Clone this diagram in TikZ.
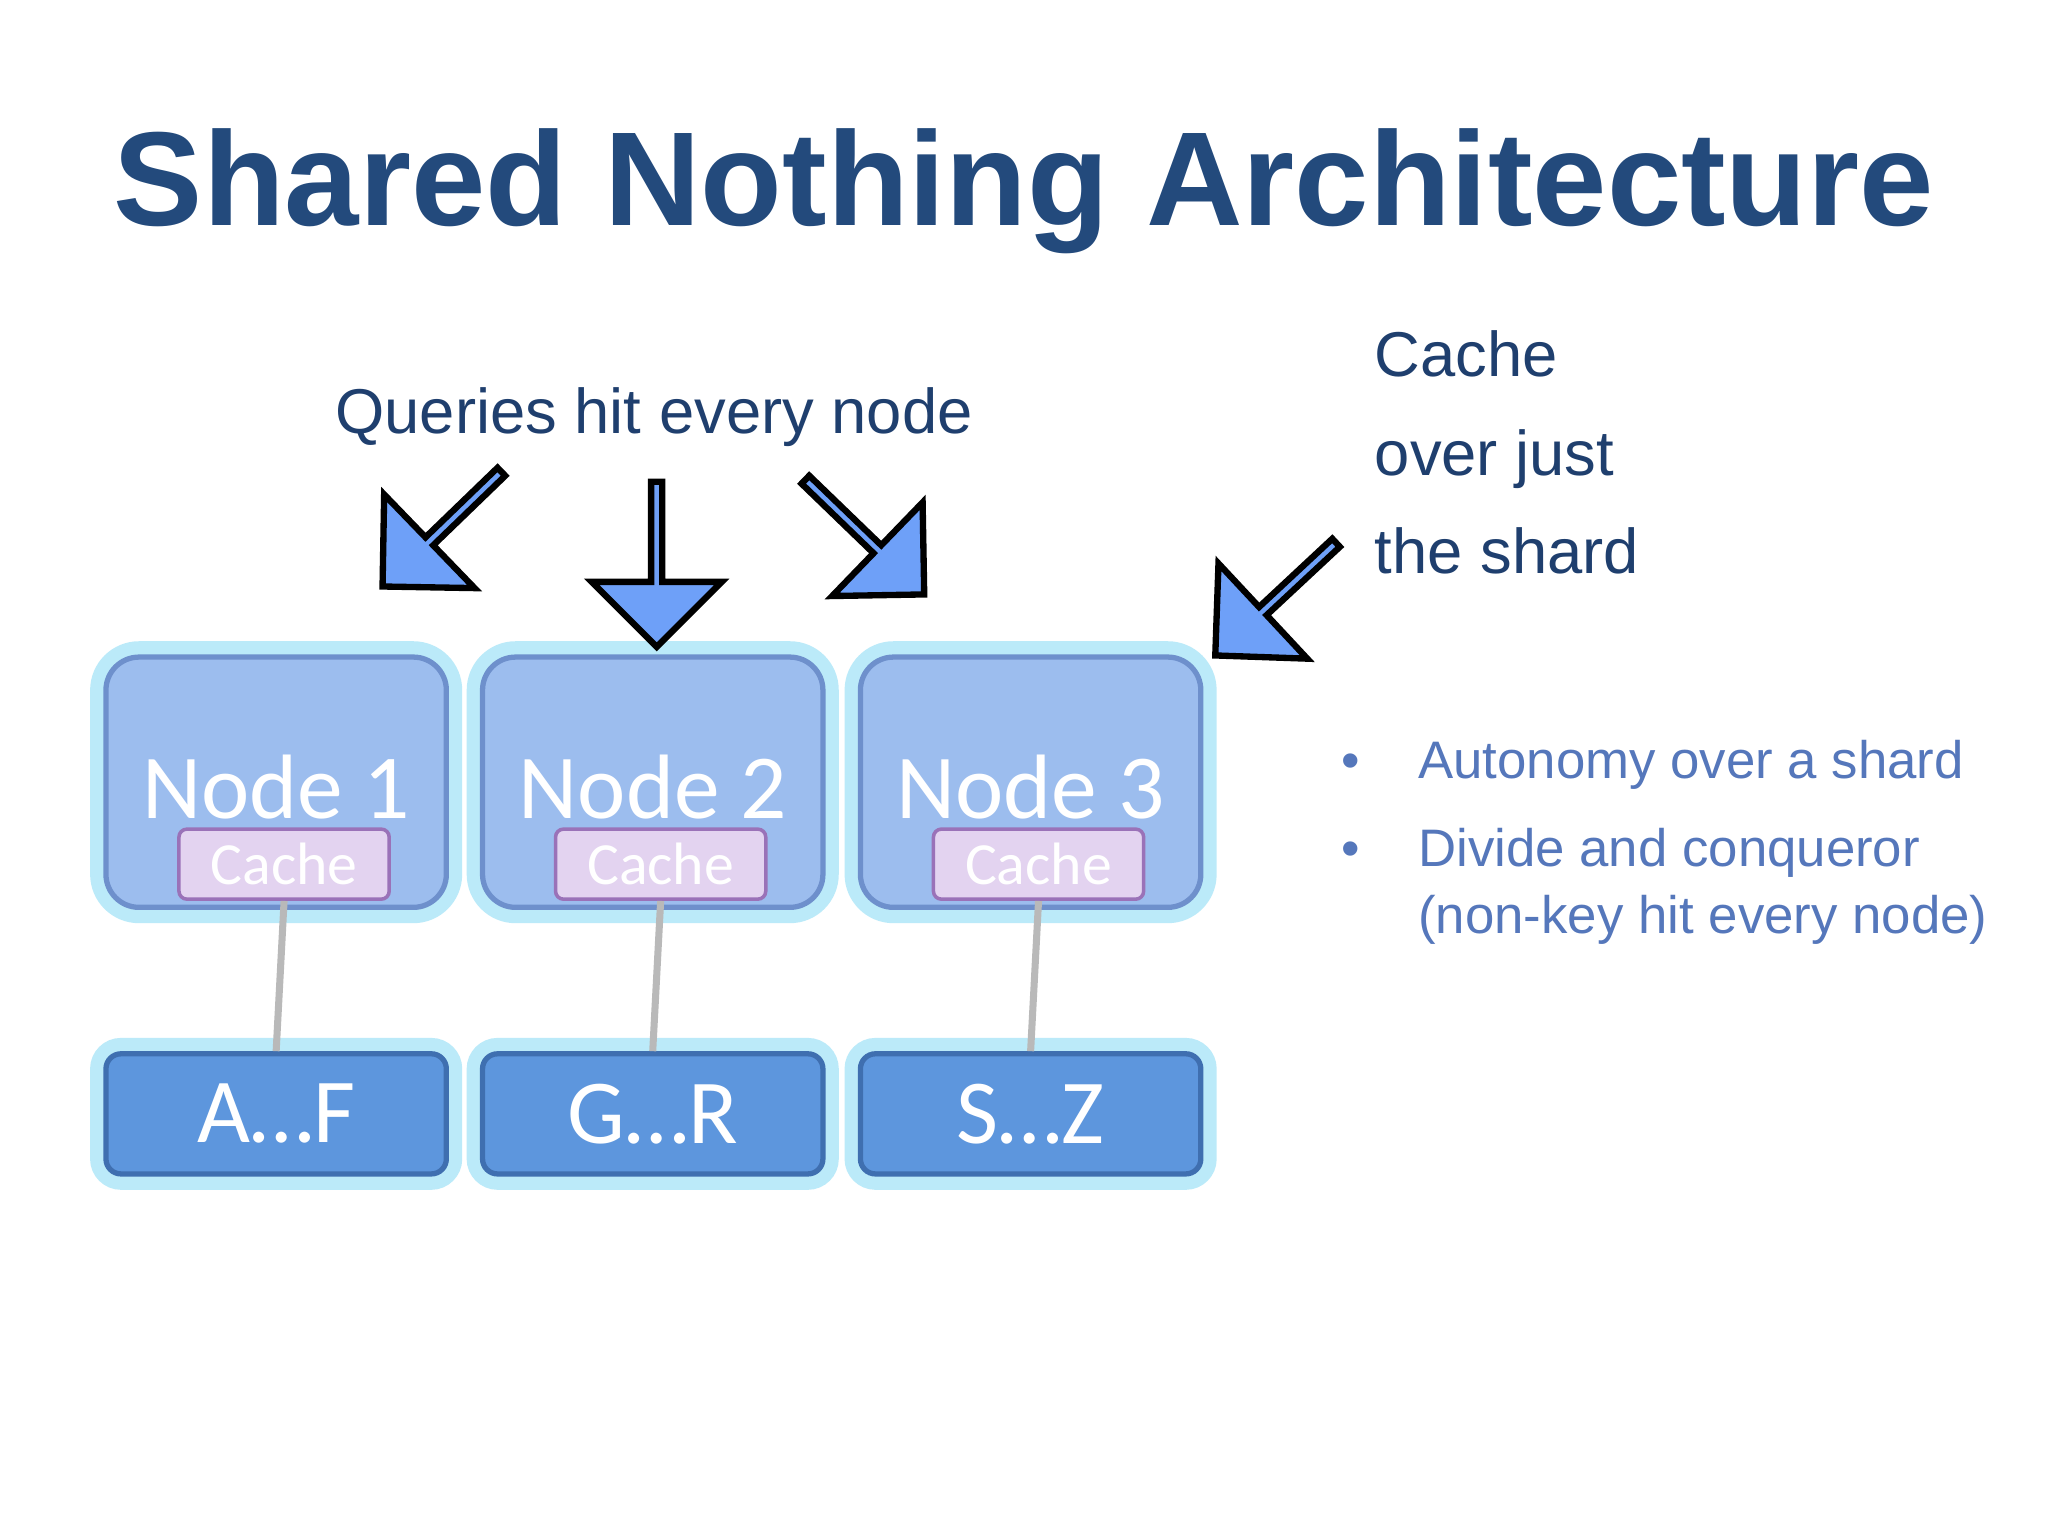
\documentclass[tikz,border=0pt]{standalone}
\usepackage{fontspec}
\setmainfont{Liberation Sans}
\newfontfamily\calfont{Carlito}
\usetikzlibrary{shapes.arrows}
\definecolor{ttl}{HTML}{234A7C}
\definecolor{dk}{HTML}{1F3F6E}
\definecolor{bul}{HTML}{5577BB}
\definecolor{nodef}{HTML}{9CBDEE}
\definecolor{noded}{HTML}{6E90CC}
\definecolor{glow}{HTML}{8FDDF5}
\definecolor{cachef}{HTML}{E3D3F0}
\definecolor{cached}{HTML}{9A72B8}
\definecolor{shardf}{HTML}{5D96DD}
\definecolor{shardd}{HTML}{3F6FB0}
\definecolor{arr}{HTML}{6EA0F8}
\tikzset{
 box/.style={draw=noded,line width=1.5pt,fill=nodef,rounded corners=0.33cm,minimum width=3.4cm,minimum height=2.5cm,
   preaction={draw=glow,line width=9pt,opacity=0.6}},
 cache/.style={draw=cached,line width=1pt,fill=cachef,rounded corners=0.08cm,minimum width=2.1cm,minimum height=0.7cm,inner sep=0,
   text=white,font=\calfont\fontsize{17}{17}\selectfont},
 shard/.style={draw=shardd,line width=1.5pt,fill=shardf,rounded corners=0.15cm,minimum width=3.4cm,minimum height=1.2cm,
   text=white,font=\calfont\fontsize{26}{26}\selectfont,preaction={draw=glow,line width=9pt,opacity=0.6}},
 lbl/.style={text=white,font=\calfont\fontsize{26}{26}\selectfont},
 link/.style={draw=gray!55,line width=2pt},
 barr/.style={single arrow,draw=black,line width=1.8pt,fill=arr,inner sep=0,minimum width=1.3cm,
   single arrow head extend=0.34cm,minimum height=1.65cm,line join=miter}
}
\begin{document}
\begin{tikzpicture}[x=0.0132cm,y=-0.0132cm]
\useasboundingbox[fill=white] (0,0) rectangle (1550,1162);
\node[text=ttl,font=\bfseries\fontsize{38}{38}\selectfont] (title) at (775,145) {Shared Nothing Architecture};
\node[text=dk,font=\fontsize{18}{18}\selectfont] (q) at (495,316) {Queries hit every node};
\node[text=dk,font=\fontsize{18}{22}\selectfont,anchor=north west,align=left,inner sep=0] (c) at (1040,250)
  {Cache\\[6pt] over just\\[6pt] the shard};
\node[text=bul,font=\fontsize{15}{19}\selectfont,anchor=north west,align=left,inner sep=0] (b) at (1015,560)
  {\textbullet\hspace{1.1em}Autonomy over a shard\\[6pt]
   \textbullet\hspace{1.1em}Divide and conqueror\\
   \phantom{\textbullet}\hspace{1.1em}(non-key hit every node)};
\node[box] (n1) at (209,592) {};
\node[lbl] (l1) at (209,596) {Node 1};
\node[cache] (c1) at (215,654) {Cache};
\node[shard] (s1) at (209,843) {A\ldots F};
\node[box] (n2) at (494,592) {};
\node[lbl] (l2) at (494,596) {Node 2};
\node[cache] (c2) at (500,654) {Cache};
\node[shard] (s2) at (494,843) {G\ldots R};
\node[box] (n3) at (780,592) {};
\node[lbl] (l3) at (780,596) {Node 3};
\node[cache] (c3) at (786,654) {Cache};
\node[shard] (s3) at (780,843) {S\ldots Z};
\draw[link] (c1.south) -- (s1.north);
\draw[link] (c2.south) -- (s2.north);
\draw[link] (c3.south) -- (s3.north);
\node[barr,rotate=-136] (a1) at (336,399) {};
\node[barr,rotate=-90] (a2) at (497,425) {};
\node[barr,rotate=-44] (a3) at (653,405) {};
\node[barr,rotate=-137] (a4) at (967,452) {};
\end{tikzpicture}
\end{document}
